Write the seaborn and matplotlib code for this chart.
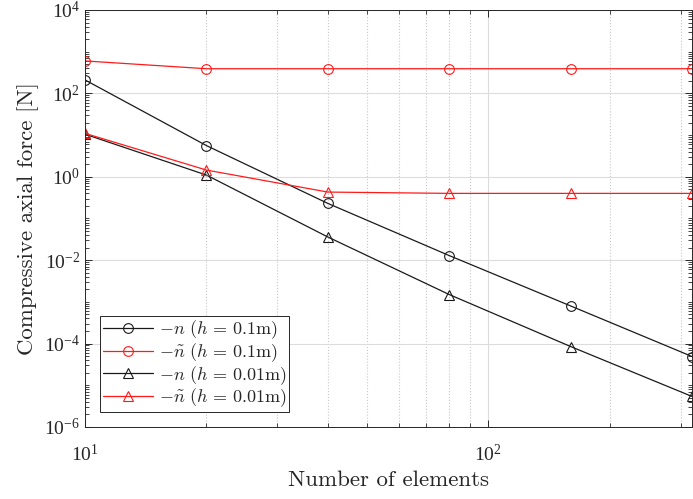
import numpy as np
import pandas as pd
import seaborn as sns
import matplotlib.pyplot as plt
from matplotlib.ticker import LogLocator, NullFormatter, FixedLocator

# number of elements
elements = [10, 20, 40, 80, 160, 320]

# compressive axial force [N]
n_h01 = [210, 5.6, 0.23, 0.0129, 8.0e-4, 4.9e-5]
nt_h01 = [600, 390, 390, 390, 390, 390]
n_h001 = [10.5, 1.1, 0.036, 1.5e-3, 8.5e-5, 5.4e-6]
nt_h001 = [11, 1.45, 0.43, 0.40, 0.40, 0.40]

labels = [r'$-n\ (h\,=\,0.1\mathrm{m})$', r'$-\tilde{n}\ (h\,=\,0.1\mathrm{m})$',
          r'$-n\ (h\,=\,0.01\mathrm{m})$', r'$-\tilde{n}\ (h\,=\,0.01\mathrm{m})$']

sns.set_style('ticks')
plt.rcParams['font.family'] = ['Liberation Serif', 'DejaVu Serif']
plt.rcParams['mathtext.fontset'] = 'stix'

fig = plt.figure(figsize=(6.93, 4.99), dpi=100)
ax = fig.add_axes([0.1227, 0.1443, 0.8759, 0.8357])

series = [(n_h01, '#1a1a1a', 'o'), (nt_h01, '#ff1a1a', 'o'),
          (n_h001, '#1a1a1a', '^'), (nt_h001, '#ff1a1a', '^')]
for (vals, col, mk), lab in zip(series, labels):
    df = pd.DataFrame({'x': elements, 'y': vals})
    sns.lineplot(data=df, x='x', y='y', ax=ax, color=col, marker=mk,
                 markersize=7, markerfacecolor='none', markeredgecolor=col,
                 markeredgewidth=0.8, linewidth=0.9, label=lab)

ax.set_xscale('log')
ax.set_yscale('log')
ax.set_xlim(10, 320)
ax.set_ylim(1e-6, 1e4)

ax.yaxis.set_major_locator(FixedLocator([1e-6, 1e-4, 1e-2, 1e0, 1e2, 1e4]))
ax.yaxis.set_minor_locator(LogLocator(base=10, subs=np.arange(1, 10), numticks=20))
ax.yaxis.set_minor_formatter(NullFormatter())
ax.xaxis.set_minor_formatter(NullFormatter())

ax.grid(which='major', color='#dcdcdc', linestyle='-', linewidth=0.8)
ax.grid(which='minor', axis='x', color='#c8c8c8', linestyle=':', linewidth=0.8)
ax.set_axisbelow(True)

ax.tick_params(which='both', direction='in', top=True, right=True, colors='#262626',
               labelcolor='#262626', labelsize=14)
ax.tick_params(which='major', length=5, width=0.7)
ax.tick_params(which='minor', length=3, width=0.6)
ax.tick_params(axis='x', which='major', pad=12)
for s in ax.spines.values():
    s.set_color('#262626')
    s.set_linewidth(0.7)

ax.set_xlabel('Number of elements', fontsize=16.5, fontfamily='cmr10',
              color='#262626', labelpad=4)
ax.set_ylabel('Compressive axial force [N]', fontsize=16.5, fontfamily='cmr10',
              color='#262626', labelpad=4)

leg = ax.legend(loc='lower left', bbox_to_anchor=(0.025, 0.036), fancybox=False,
                edgecolor='#262626', framealpha=1, borderaxespad=0,
                prop={'size': 13, 'math_fontfamily': 'cm'},
                handlelength=2.75, handletextpad=0.35, labelspacing=0.0,
                borderpad=0.15)
leg.get_frame().set_linewidth(0.7)

fig.savefig('out.png', dpi=100)
